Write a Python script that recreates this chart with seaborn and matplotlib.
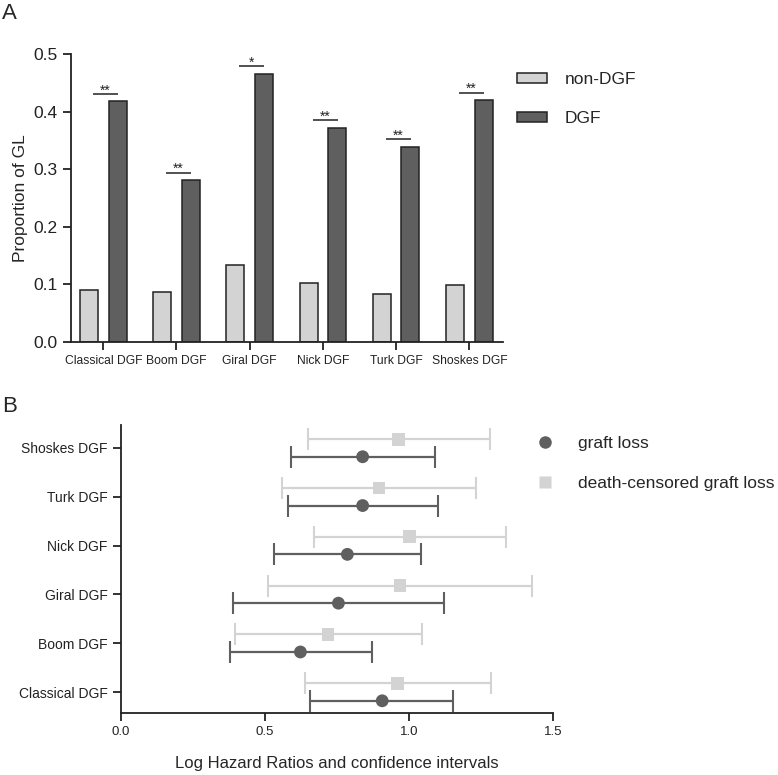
import numpy as np
import pandas as pd
import matplotlib
matplotlib.use("Agg")
import matplotlib.pyplot as plt
import seaborn as sns
from matplotlib.lines import Line2D

# Panel A data: proportion of graft loss per DGF definition
methods = ["Classical DGF", "Boom DGF", "Giral DGF", "Nick DGF", "Turk DGF", "Shoskes DGF"]
non_dgf = [0.090, 0.087, 0.134, 0.102, 0.083, 0.099]
dgf = [0.418, 0.281, 0.466, 0.372, 0.339, 0.420]
stars = ["**", "**", "*", "**", "**", "**"]

# Panel B data: log hazard ratios with confidence intervals
gl_est = [0.907, 0.623, 0.755, 0.786, 0.839, 0.839]
gl_lo = [0.657, 0.377, 0.389, 0.532, 0.580, 0.592]
gl_hi = [1.154, 0.870, 1.123, 1.041, 1.101, 1.089]
dc_est = [0.960, 0.719, 0.969, 1.001, 0.896, 0.963]
dc_lo = [0.640, 0.397, 0.511, 0.669, 0.559, 0.650]
dc_hi = [1.283, 1.044, 1.426, 1.337, 1.233, 1.282]

LIGHT = "#d3d3d3"
DARK = "#5f5f5f"
INK = "#222222"

sns.set_style("ticks")
plt.rcParams["font.family"] = ["Liberation Sans", "DejaVu Sans"]
plt.rcParams["axes.edgecolor"] = INK
plt.rcParams["axes.linewidth"] = 1.3
plt.rcParams["xtick.color"] = INK
plt.rcParams["ytick.color"] = INK

fig = plt.figure(figsize=(7.78, 7.75), dpi=100)

# ---------------- Panel A ----------------
ax_a = fig.add_axes([0.0913, 0.5587, 0.5553, 0.3716])
df_a = pd.DataFrame({
    "method": methods * 2,
    "prop": non_dgf + dgf,
    "group": ["non-DGF"] * len(methods) + ["DGF"] * len(methods),
})
sns.barplot(data=df_a, x="method", y="prop", hue="group", palette=[LIGHT, DARK],
            width=0.78, gap=0.37, edgecolor=INK, linewidth=1.1, ax=ax_a)

# significance bars above the DGF bars
for i, (v, s) in enumerate(zip(dgf, stars)):
    yl = v + 0.013
    ax_a.hlines(yl, i + 0.03 - 0.17, i + 0.03 + 0.17, color=INK, lw=1.1)
    ax_a.text(i + 0.03, yl - 0.001, s, ha="center", va="baseline", fontsize=10, color=INK)

ax_a.set_xlim(-0.44, 5.46)
ax_a.set_ylim(0, 0.5)
ax_a.set_yticks(np.arange(0, 0.51, 0.1))
ax_a.set_yticklabels([f"{t:.1f}" for t in np.arange(0, 0.51, 0.1)], fontsize=12.5)
ax_a.tick_params(axis="x", labelsize=8.7, length=6, width=1.3)
ax_a.tick_params(axis="y", length=6, width=1.3)
ax_a.set_xlabel("")
ax_a.set_ylabel("Proportion of GL", fontsize=12.5)
sns.despine(ax=ax_a)

handles, labels = ax_a.get_legend_handles_labels()
ax_a.legend(handles, labels, loc="upper left", bbox_to_anchor=(0.6645, 0.907),
            bbox_transform=fig.transFigure, frameon=False, fontsize=12.5,
            borderpad=0, borderaxespad=0, handlelength=1.72, handleheight=0.5,
            handletextpad=1.03, labelspacing=1.4)
fig.text(0.003, 0.982, "A", fontsize=16, va="center", ha="left")

# ---------------- Panel B ----------------
ax_b = fig.add_axes([0.1555, 0.0800, 0.5553, 0.3716])
ypos = np.arange(len(methods))
off = 0.18
df_b = pd.DataFrame({
    "est": dc_est + gl_est,
    "y": list(ypos + off) + list(ypos - off),
    "kind": ["death-censored graft loss"] * len(methods) + ["graft loss"] * len(methods),
})

ax_b.errorbar(dc_est, ypos + off,
              xerr=[np.subtract(dc_est, dc_lo), np.subtract(dc_hi, dc_est)],
              fmt="none", ecolor=LIGHT, elinewidth=1.6, capsize=8, capthick=1.5)
ax_b.errorbar(gl_est, ypos - off,
              xerr=[np.subtract(gl_est, gl_lo), np.subtract(gl_hi, gl_est)],
              fmt="none", ecolor=DARK, elinewidth=1.6, capsize=8, capthick=1.5)
sns.scatterplot(data=df_b, x="est", y="y", hue="kind", style="kind",
                palette={"graft loss": DARK, "death-censored graft loss": LIGHT},
                markers={"graft loss": "o", "death-censored graft loss": "s"},
                s=85, edgecolor="none", legend=False, zorder=3, ax=ax_b)

ax_b.set_xlim(0, 1.5)
ax_b.set_ylim(-0.43, 5.47)
ax_b.set_xticks([0, 0.5, 1.0, 1.5])
ax_b.set_xticklabels(["0.0", "0.5", "1.0", "1.5"], fontsize=9.5)
ax_b.set_yticks(ypos)
ax_b.set_yticklabels(methods, fontsize=10)
ax_b.tick_params(axis="both", length=6, width=1.3)
ax_b.set_ylabel("")
ax_b.set_xlabel("Log Hazard Ratios and confidence intervals", fontsize=12, labelpad=13)
sns.despine(ax=ax_b)

leg_handles = [
    Line2D([], [], marker="o", color="none", markerfacecolor=DARK, markeredgecolor="none", markersize=9),
    Line2D([], [], marker="s", color="none", markerfacecolor=LIGHT, markeredgecolor="none", markersize=9),
]
ax_b.legend(leg_handles, ["graft loss", "death-censored graft loss"], loc="upper left",
            bbox_to_anchor=(0.6893, 0.4374), bbox_transform=fig.transFigure,
            frameon=False, fontsize=12.5, borderpad=0, borderaxespad=0,
            handlelength=1.0, handletextpad=1.4, labelspacing=1.45)
fig.text(0.003, 0.4755, "B", fontsize=16, va="center", ha="left")

fig.savefig("out.png", dpi=100)
